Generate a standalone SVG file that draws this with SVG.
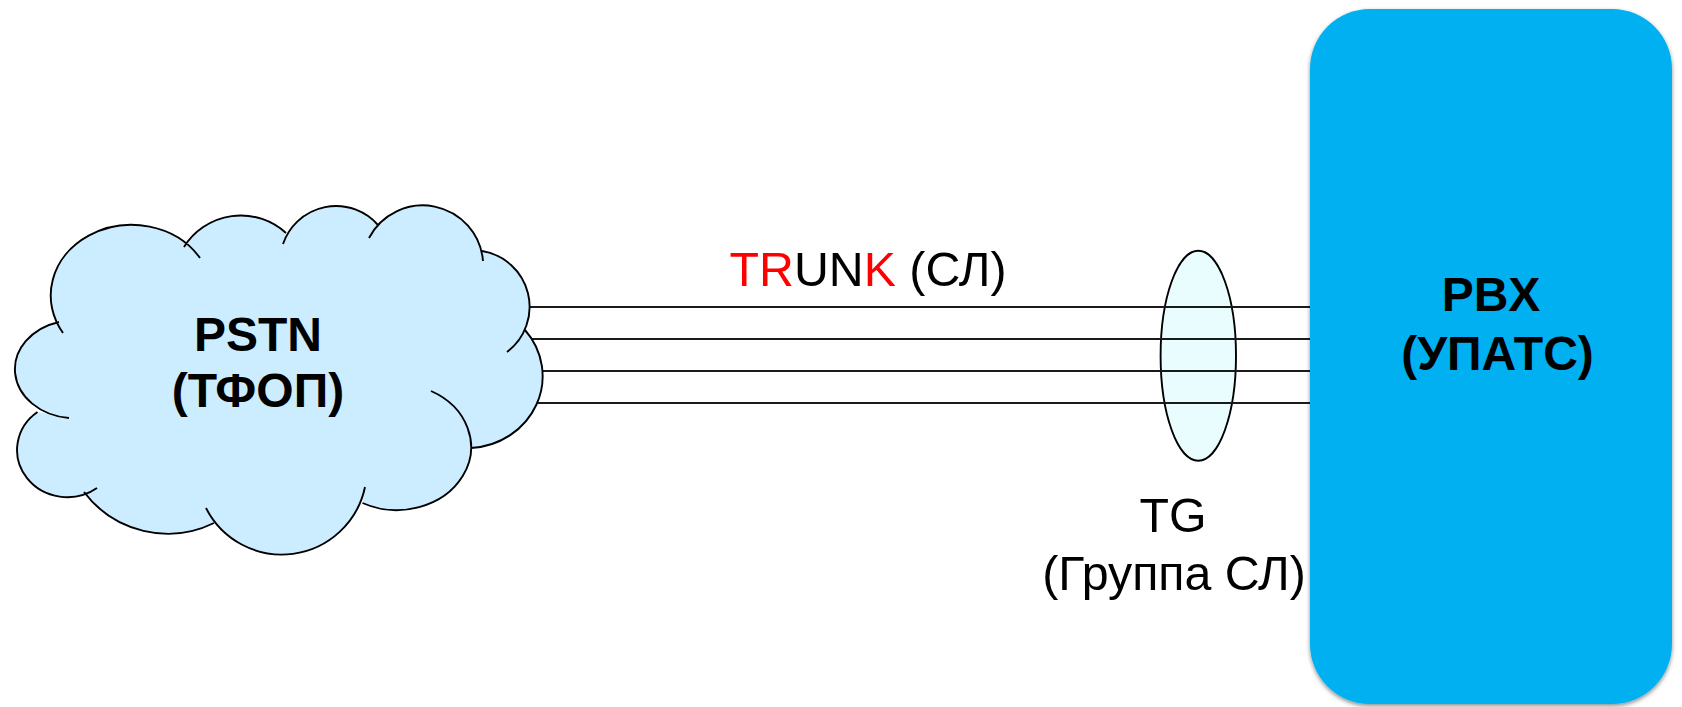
<svg xmlns="http://www.w3.org/2000/svg" width="1682" height="707" viewBox="0 0 1682 707">
<style>
text{font-family:"Liberation Sans",Arial,sans-serif;fill:#000;text-anchor:middle}
.b{font-weight:bold;font-size:48px}
.r{font-size:48.300px}
.l{stroke:#1a1a1a;stroke-width:1.900;fill:none}
.o{stroke:#000;stroke-width:1.900;fill:none}
</style>
<defs>
<filter id="sh" x="-5%" y="-5%" width="110%" height="110%"><feDropShadow dx="0" dy="2" stdDeviation="2.200" flood-color="#000" flood-opacity="0.45"/></filter>
</defs>
<rect width="1682" height="707" fill="#fff"/>
<g id="connectors">
<path class="l" d="M500 307H1310M500 339H1310M500 371H1310M500 403H1310"/>
</g>
<g id="pstn">
<path fill="#CCECFF" d="M63 333A80 70 0 0 1 200 258L184 247A67 67 0 0 1 286 233L283 244A56 56 0 0 1 378 225L369 238A60.500 60.500 0 0 1 483 261L482 251A56.500 56.500 0 0 1 507 352L525 330A76 72 0 0 1 471 448L431 391A73 62 0 1 1 362.500 503L365 487A85 85 0 0 1 206 508L214 523A105 105 0 0 1 84 492L97 488A50 47 0 0 1 37.500 412L69 418A60 49 0 0 1 59 322Z"/>
<path class="o" d="M63 333A80 70 0 0 1 200 258M184 247A67 67 0 0 1 286 233M283 244A56 56 0 0 1 378 225M369 238A60.500 60.500 0 0 1 483 261M482 251A56.500 56.500 0 0 1 507 352M525 330A76 72 0 0 1 471 448M431 391A73 62 0 1 1 362.500 503M365 487A85 85 0 0 1 206 508M214 523A105 105 0 0 1 84 492M97 488A50 47 0 0 1 37.500 412M69 418A60 49 0 0 1 59 322"/>
<text class="b" x="258" y="351">PSTN</text>
<text class="b" x="258" y="407">(ТФОП)</text>
</g>
<g id="tg">
<ellipse cx="1198.300" cy="355.700" rx="37.700" ry="105" fill="#E9FDFF" stroke="#000" stroke-width="1.900"/>
<path class="l" d="M1160 307H1237M1160 339H1237M1160 371H1237M1160 403H1237"/>
</g>
<g id="pbx">
<rect x="1310" y="9" width="362" height="695" rx="60" ry="60" fill="#00B0F0" filter="url(#sh)"/>
<text class="b" x="1491" y="311">PBX</text>
<text class="b" x="1497.500" y="370">(УПАТС)</text>
</g>
<g id="labels">
<text class="r" x="868" y="286"><tspan fill="#f00">TR</tspan>UN<tspan fill="#f00">K</tspan> (СЛ)</text>
<text class="r" x="1173" y="532">TG</text>
<text class="r" x="1174" y="590">(Группа СЛ)</text>
</g>
</svg>
